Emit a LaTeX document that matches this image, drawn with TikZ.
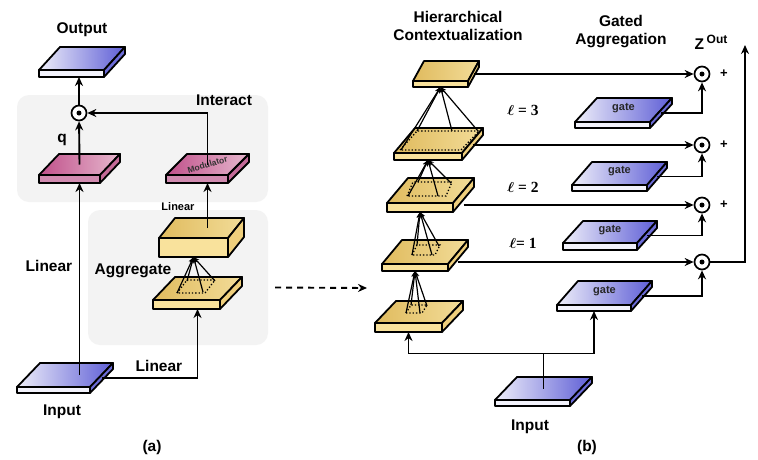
\documentclass[tikz,border=0pt]{standalone}
\usepackage{fontspec}
\setmainfont{Liberation Sans}
\newfontfamily\lserif{Liberation Serif}
\usetikzlibrary{arrows.meta,positioning}

\definecolor{yelL}{HTML}{E0BB5E}
\definecolor{yelR}{HTML}{F2DC98}
\definecolor{yelF}{HTML}{F9E29C}
\definecolor{yelS}{HTML}{EFCF7C}
\definecolor{pnkL}{HTML}{C0508A}
\definecolor{pnkR}{HTML}{E6B8CE}
\definecolor{pnkF}{HTML}{D18BB0}
\definecolor{pnkS}{HTML}{C46A98}
\definecolor{bluL}{HTML}{EEEEF9}
\definecolor{bluR}{HTML}{5E5ED6}
\definecolor{bluF}{HTML}{F2F2FB}
\definecolor{bluS}{HTML}{6C6CD8}
\definecolor{panel}{HTML}{F3F3F3}

% name, x, y (front top left), width, depth x, depth y, thickness, colour
\newcommand{\slab}[8]{%
  \shade[left color=#8L, right color=#8R, draw=black, line width=1.8pt, line join=round]
    (#2,#3) -- ({#2+#5},{#3-#6}) -- ({#2+#4+#5},{#3-#6}) -- ({#2+#4},#3) -- cycle;
  \draw[fill=#8F, line width=1.8pt, line join=round] (#2,#3) rectangle ({#2+#4},{#3+#7});
  \draw[fill=#8S, line width=1.8pt, line join=round]
    ({#2+#4},#3) -- ({#2+#4+#5},{#3-#6}) -- ({#2+#4+#5},{#3-#6+#7}) -- ({#2+#4},{#3+#7}) -- cycle;
  \coordinate (#1-c) at ({#2+#4/2+#5/2},{#3-#6/2});
  \coordinate (#1-b) at ({#2+#4/2},{#3+#7});
  \coordinate (#1-r) at ({#2+#4+#5/2},{#3-#6/2+#7/2});
}

\begin{document}
\begin{tikzpicture}[x=1pt, y=-1pt,
  lbl/.style={font=\fontsize{15.5}{18}\selectfont\bfseries, inner sep=1pt},
  small/.style={font=\fontsize{11}{13}\selectfont\bfseries, inner sep=1pt},
  ell/.style={font=\fontsize{15.5}{18}\selectfont\lserif\bfseries\boldmath, inner sep=1pt},
  arr/.style={-{Stealth[length=9pt,width=8pt]}, line width=1.9pt},
  fan/.style={-{Stealth[length=6pt,width=5pt]}, line width=1.2pt},
  patch/.style={dotted, line width=1.3pt},
  odot/.style={circle, draw, line width=1.7pt, fill=white, minimum size=15pt, inner sep=0pt},
  box/.style={fill=panel, rounded corners=12pt, inner sep=0pt}]

  \fill[white] (0,0) rectangle (758,459);
  \useasboundingbox (0,0) rectangle (758,459);

  % (a) panels
  \node[box, minimum width=251pt, minimum height=107pt] (interact) at (142.5,148.5) {};
  \node[box, minimum width=180pt, minimum height=135pt] (aggbox) at (178,277.5) {};

  % (a) slabs
  \slab{O}{39}{70}{65}{21}{23}{7}{blu}
  \slab{Q}{39}{175}{61}{20}{21}{8}{pnk}
  \slab{M}{166}{175}{62}{21}{21}{8}{pnk}
  \slab{A2}{159}{238}{69}{16}{20}{19}{yel}
  \slab{A1}{153}{300}{67}{22}{23}{9}{yel}
  \slab{I}{17}{387}{73}{23}{24}{6}{blu}

  \node[font=\fontsize{8.5}{9}\selectfont\bfseries, text=black!80, rotate=16] at (M-c) {Modulator};
  \draw[patch] (177,293) -- (187,280) -- (215,280) -- (205,293) -- cycle;
  \foreach \p in {(177,293),(187,281),(203,292),(215,281)}
    \draw[fan] \p -- (A2-b);

  \node[odot] (mq) at (79,113) {};
  \fill (mq) circle (2.5pt);
  \draw[arr] (Q-c |- I-c) -- (Q-c |- Q-b);
  \draw[arr] (Q-c) -- (mq);
  \draw[arr] (mq) -- (mq |- O-b);
  \draw[arr] (M-c) |- (mq);
  \draw[arr] (M-c |- A2-c) -- (M-c |- M-b);
  \draw[arr] (I-r) -| (A1-c |- A1-b);

  \node[lbl] (outlbl) at (82,30) {Output};
  \node[lbl] (intlbl) at (224,100) {Interact};
  \node[lbl] (qlbl) at (62,140) {q};
  \node[small] (lin1) at (178,207) {Linear};
  \node[lbl] (lin2) at (49,266) {Linear};
  \node[lbl] (agglbl) at (133,271) {Aggregate};
  \node[lbl] (lin3) at (159,366) {Linear};
  \node[lbl] (inalbl) at (62,412) {Input};
  \node[lbl] (alab) at (152,447) {(a)};

  % link between (a) and (b)
  \coordinate (dend) at (367,288);
  \draw[arr, dash pattern=on 6pt off 5pt] ([xshift=7pt,yshift=-10pt]aggbox.east) -- (dend);

  % (b) hierarchy
  \slab{T0}{375}{323}{67}{21}{22}{9}{yel}
  \slab{T1}{382}{264}{66}{20}{24}{7}{yel}
  \slab{T2}{387}{203}{66}{21}{25}{9}{yel}
  \slab{T3}{394}{153}{68}{21}{25}{7}{yel}
  \slab{T4}{413}{81}{55}{11}{20}{6}{yel}

  \draw[patch] (406,313) -- (411,305) -- (427,305) -- (422,313) -- cycle;
  \draw[patch] (412,255) -- (417,245) -- (440,245) -- (435,255) -- cycle;
  \draw[patch] (407,196) -- (413,182) -- (452,182) -- (446,196) -- cycle;
  \draw[patch] (400,150) -- (417,131) -- (479,131) -- (461,150) -- cycle;
  \foreach \p in {(406,313),(411,305),(420,313),(427,306)}
    \draw[fan] \p -- (T1-b);
  \foreach \p in {(412,255),(417,245),(432,255),(439,246)}
    \draw[fan] \p -- (T2-b);
  \foreach \p in {(408,196),(418,182),(438,196),(451,183)}
    \draw[fan] \p -- (T3-b);
  \foreach \p in {(401,150),(417,131),(452,131),(478,131)}
    \draw[fan] \p -- (T4-b);

  % (b) gates
  \slab{G3}{575}{122}{75}{22}{24}{6}{blu}
  \slab{G2}{572}{185}{75}{20}{23}{6}{blu}
  \slab{G1}{563}{243}{74}{20}{22}{7}{blu}
  \slab{G0}{557}{305}{74}{21}{24}{6}{blu}
  \slab{Ib}{495}{400}{75}{22}{23}{6}{blu}
  \foreach \g in {G0,G1,G2,G3}
    \node[small, text=black!85] at ([yshift=2pt]\g-c) {gate};

  \node[odot] (m3) at (702,74) {};
  \node[odot] (m2) at (702,145) {};
  \node[odot] (m1) at (702,205) {};
  \node[odot] (m0) at (702,262) {};
  \foreach \m in {m0,m1,m2,m3}
    \fill (\m) circle (2.5pt);
  \coordinate (zt) at (745,45);

  \draw[arr] (T4-r |- m3) -- (m3);
  \draw[arr] (T3-r |- m2) -- (m2);
  \draw[arr] (T2-r |- m1) -- (m1);
  \draw[arr] (T1-r |- m0) -- (m0);
  \draw[arr] (G3-r) -| (m3);
  \draw[arr] (G2-r) -| (m2);
  \draw[arr] (G1-r) -| (m1);
  \draw[arr] (G0-r) -| (m0);
  \draw[arr] (m0) -| (zt);

  \draw[line width=1.9pt] (Ib-c) -- ++(0,-35) coordinate (jb);
  \draw[arr] (jb) -| (T0-b);
  \draw[arr] (jb) -| (G0-b);

  \foreach \m in {m1,m2,m3}
    \node[small, font=\fontsize{13}{15}\selectfont\bfseries] at ([xshift=22pt]\m) {+};

  \node[lbl, align=center] (hclbl) at (458,26) {Hierarchical\\Contextualization};
  \node[lbl, align=center] (galbl) at (621,32) {Gated\\Aggregation};
  \node[lbl] (zlbl) at (711,42) {Z\,\raisebox{6pt}{\fontsize{12}{13}\selectfont Out}};
  \node[ell] (l3) at (523,110) {$\ell$ = 3};
  \node[ell] (l2) at (523,187) {$\ell$ = 2};
  \node[ell] (l1) at (523,243) {$\ell$= 1};
  \node[lbl] (inblbl) at (530,427) {Input};
  \node[lbl] (blab) at (587,447) {(b)};
\end{tikzpicture}
\end{document}
